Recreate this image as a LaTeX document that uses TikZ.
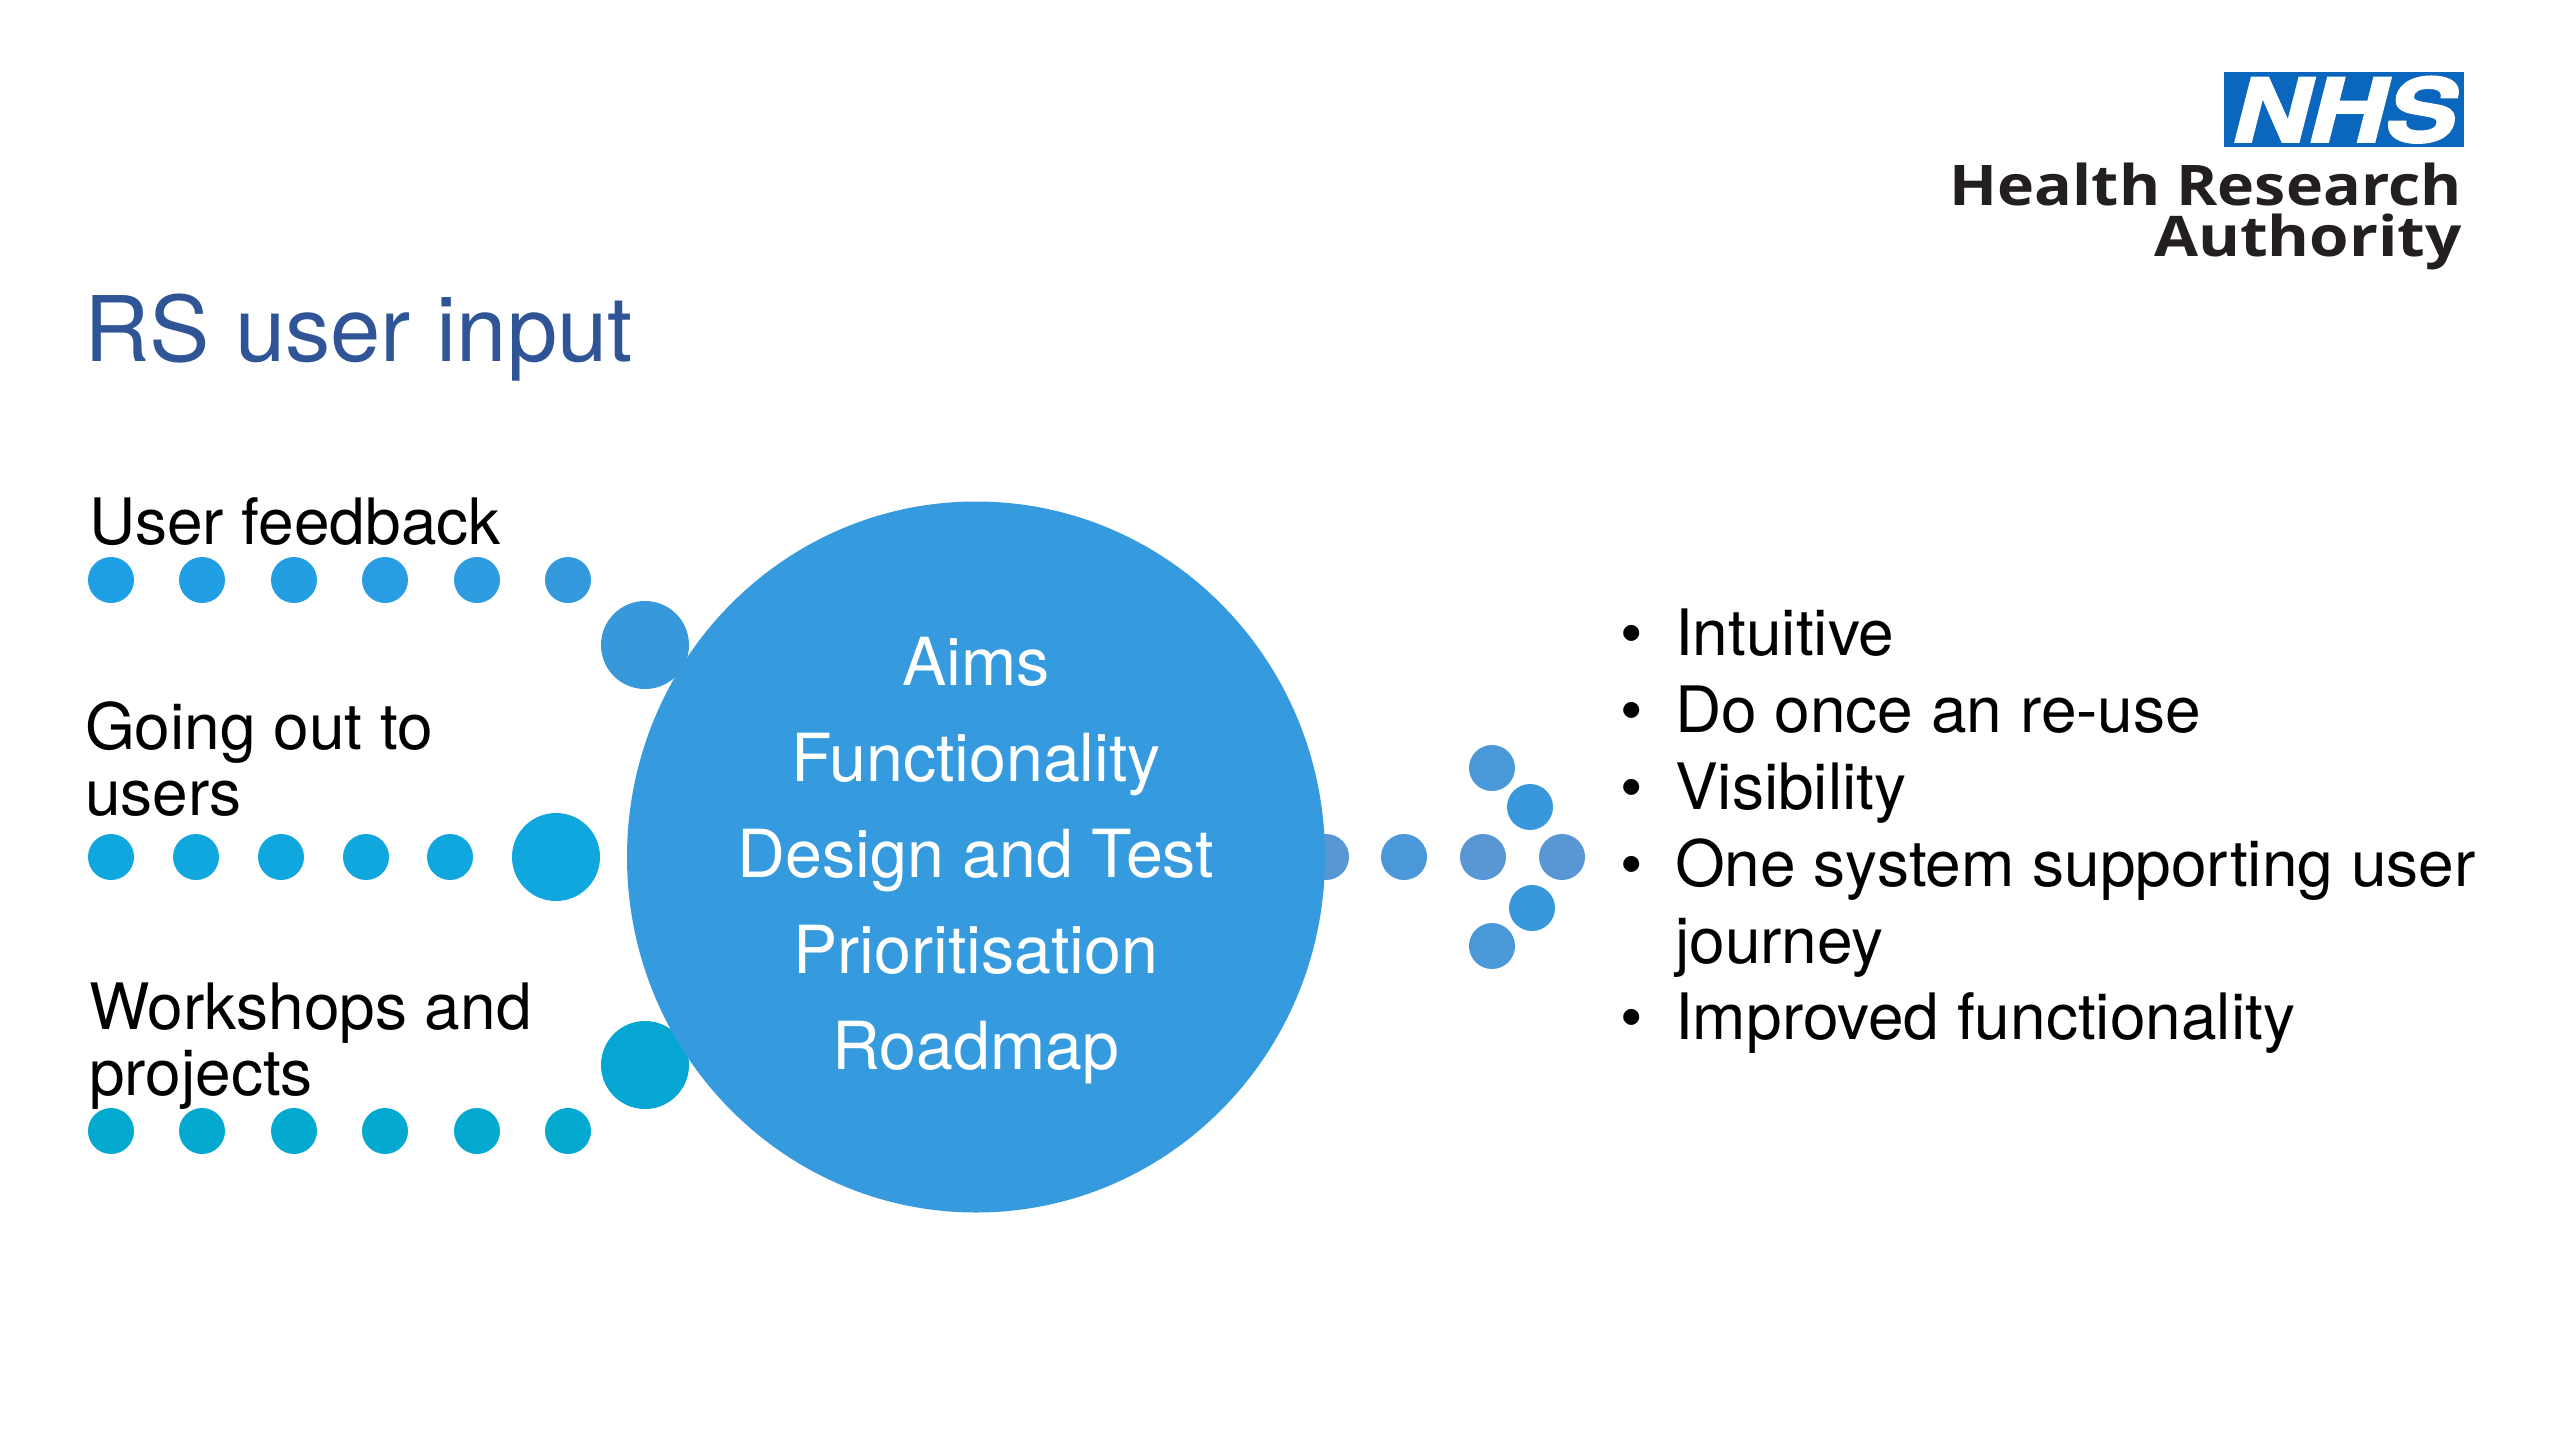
\documentclass[tikz,border=0pt]{standalone}
\usepackage{fontspec}
\usepackage{graphicx}
\setmainfont{TeX Gyre Heros}
\newfontfamily\logofont{Open Sans}
\newfontfamily\nhsfont[BoldItalicFeatures={FakeBold=2.5}]{TeX Gyre Heros}
\usetikzlibrary{shapes.geometric}
\definecolor{mainblue}{HTML}{359BDE}
\definecolor{titleblue}{HTML}{2F5597}
\definecolor{logoblue}{HTML}{0B66BE}
\definecolor{logotext}{HTML}{231F20}
\definecolor{ra}{HTML}{1F9FE6}
\definecolor{rb}{HTML}{219EE4}
\definecolor{rc}{HTML}{249EE3}
\definecolor{rd}{HTML}{289DE2}
\definecolor{re}{HTML}{2D9CE0}
\definecolor{rf}{HTML}{3399DC}
\definecolor{rg}{HTML}{3799DB}
\definecolor{midrow}{HTML}{10A6DE}
\definecolor{lowrow}{HTML}{03A9CF}
\definecolor{lowbig}{HTML}{05A6D2}
\definecolor{outa}{HTML}{4A98D8}
\definecolor{outb}{HTML}{5897D3}
\definecolor{outc}{HTML}{3898DB}
\tikzset{
  dot/.style={circle,draw=none,inner sep=0pt,minimum size=46pt},
  bigdot/.style={circle,draw=none,inner sep=0pt,minimum size=88pt},
  label/.style={inner sep=0pt,outer sep=0pt,anchor=north west,align=left,text=black,font=\fontsize{64}{66}\selectfont},
  logoline/.style={inner sep=0pt,anchor=base east,text=logotext,font=\logofont\fontsize{56}{56}\selectfont\bfseries},
}
\begin{document}
\begin{tikzpicture}[x=1pt,y=-1pt]
\useasboundingbox[fill=white] (0,0) rectangle (2560,1440);
% logo
\node[fill=logoblue,minimum width=240pt,minimum height=75pt,inner sep=0pt,anchor=north west] (nhsbox) at (2224,72) {};
\node[text=white,inner sep=0pt,font=\nhsfont\fontsize{88}{88}\selectfont\bfseries\itshape] (nhs) at (nhsbox.center) {\scalebox{1.2}[1]{NHS}};
\node[logoline] (hra1) at (2462,205) {\scalebox{1.12}[1]{Health Research}};
\node[logoline] (hra2) at (2462,256) {\scalebox{1.14}[1]{Authority}};
% title
\node[inner sep=0pt,anchor=base west,text=titleblue,font=\fontsize{90.5}{90.5}\selectfont] (title) at (84,361) {RS user input};
% left labels
\node[label] (lab1) at (89,498) {User feedback};
\node[label] (lab2) at (85,702) {Going out to\\users};
\node[label] (lab3) at (89,983) {Workshops and\\projects};
% row 1
\node[dot,fill=ra] (a1) at (111,580) {};
\node[dot,fill=rb] (a2) at (202,580) {};
\node[dot,fill=rc] (a3) at (294,580) {};
\node[dot,fill=rd] (a4) at (385,580) {};
\node[dot,fill=re] (a5) at (477,580) {};
\node[dot,fill=rf] (a6) at (568,580) {};
\node[bigdot,fill=rg] (a7) at (645,645) {};
% row 2
\node[dot,fill=midrow] (b1) at (111,857) {};
\node[dot,fill=midrow] (b2) at (196,857) {};
\node[dot,fill=midrow] (b3) at (281,857) {};
\node[dot,fill=midrow] (b4) at (366,857) {};
\node[dot,fill=midrow] (b5) at (450,857) {};
\node[bigdot,fill=midrow] (b6) at (556,857) {};
% row 3
\node[dot,fill=lowrow] (c1) at (111,1131) {};
\node[dot,fill=lowrow] (c2) at (202,1131) {};
\node[dot,fill=lowrow] (c3) at (294,1131) {};
\node[dot,fill=lowrow] (c4) at (385,1131) {};
\node[dot,fill=lowrow] (c5) at (477,1131) {};
\node[dot,fill=lowrow] (c6) at (568,1131) {};
\node[bigdot,fill=lowbig] (c7) at (645,1065) {};
% outgoing dots
\node[dot,fill=outb] (d1) at (1326,857) {};
\node[dot,fill=outa] (d2) at (1404,857) {};
\node[dot,fill=outb] (d3) at (1483,857) {};
\node[dot,fill=outb] (d4) at (1562,857) {};
\node[dot,fill=outa] (e1) at (1492,768) {};
\node[dot,fill=outc] (e2) at (1530,807) {};
\node[dot,fill=outc] (e3) at (1532,908) {};
\node[dot,fill=outa] (e4) at (1492,946) {};
% main circle
\node[ellipse,fill=mainblue,draw=none,inner sep=0pt,minimum width=698pt,minimum height=711pt] (main) at (976,857) {};
\node[inner sep=0pt,align=center,text=white,font=\fontsize{66.3}{96}\selectfont] (mainlabel) at (976,861) {Aims\\Functionality\\Design and Test\\Prioritisation\\Roadmap};
% right list
\node[inner sep=0pt,anchor=north west,align=left,text=black,font=\fontsize{64}{76.8}\selectfont] (list) at (1620,609) {%
\makebox[55pt][l]{•}Intuitive\\
\makebox[55pt][l]{•}Do once an re-use\\
\makebox[55pt][l]{•}Visibility\\
\makebox[55pt][l]{•}One system supporting user\\
\makebox[55pt][l]{}journey\\
\makebox[55pt][l]{•}Improved functionality};
\end{tikzpicture}
\end{document}
